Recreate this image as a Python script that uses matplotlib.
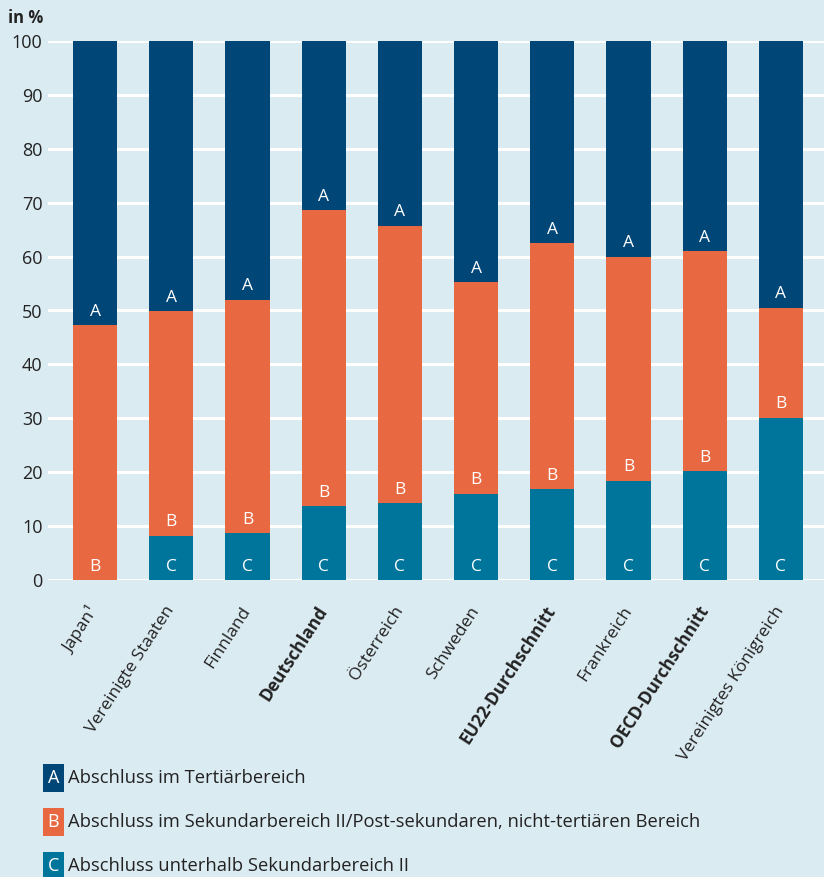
import numpy as np
import matplotlib.pyplot as plt
from matplotlib.patches import Rectangle

plt.rcParams['font.family'] = ['Open Sans', 'DejaVu Sans']

# data (in %)
countries = ["Japan¹", "Vereinigte Staaten", "Finnland", "Deutschland", "Österreich",
             "Schweden", "EU22-Durchschnitt", "Frankreich", "OECD-Durchschnitt",
             "Vereinigtes Königreich"]
bold_labels = ["Deutschland", "EU22-Durchschnitt", "OECD-Durchschnitt"]
below_sec2 = [0.0, 8.2, 8.7, 13.7, 14.3, 16.0, 16.9, 18.4, 20.2, 30.1]      # C
sec2_post = [47.3, 41.7, 43.3, 54.9, 51.4, 39.3, 45.6, 41.6, 40.8, 20.4]    # B
tertiary = [52.7, 50.1, 48.0, 31.4, 34.3, 44.7, 37.5, 40.0, 39.0, 49.5]     # A

legend_labels = ["Abschluss im Tertiärbereich",
                 "Abschluss im Sekundarbereich II/Post-sekundaren, nicht-tertiären Bereich",
                 "Abschluss unterhalb Sekundarbereich II"]

bg = "#dbebf2"
col_a = "#004677"
col_b = "#e86841"
col_c = "#00759c"
txt = "#222222"

fig = plt.figure(figsize=(8.24, 8.77), dpi=100, facecolor=bg)
ax = fig.add_axes([48 / 824, (877 - 580) / 877, 1 - 48 / 824, (580 - 41) / 877])
ax.set_facecolor(bg)

x = np.arange(len(countries))
c = np.array(below_sec2)
b = np.array(sec2_post)
a = np.array(tertiary)
w = 0.58
ax.bar(x, c, w, color=col_c, zorder=3)
ax.bar(x, b, w, bottom=c, color=col_b, zorder=3)
ax.bar(x, a, w, bottom=c + b, color=col_a, zorder=3)

# letter labels inside bars
for i in x:
    ax.text(i, c[i] + b[i] + 1.0, "A", color="white", ha="center", va="bottom", fontsize=12.5, zorder=4)
    ax.text(i, c[i] + 1.0, "B", color="white", ha="center", va="bottom", fontsize=12.5, zorder=4)
    if c[i] > 0:
        ax.text(i, 1.0, "C", color="white", ha="center", va="bottom", fontsize=12.5, zorder=4)

ax.set_ylim(0, 100)
ax.set_xlim(-0.618, 9.566)
ax.set_yticks(np.arange(0, 101, 10))
ax.yaxis.grid(True, color="white", linewidth=2.2, zorder=1)
ax.set_axisbelow(True)
for s in ax.spines.values():
    s.set_visible(False)
ax.tick_params(axis="y", length=0, labelsize=13, colors=txt, pad=4)
ax.tick_params(axis="x", length=0, pad=20)
ax.set_xticks(x)
ax.set_xticklabels(countries, rotation=57, ha="right", va="center",
                   rotation_mode="anchor", fontsize=12.5, color=txt)
for lbl in ax.get_xticklabels():
    if lbl.get_text() in bold_labels:
        lbl.set_fontweight("bold")

fig.text(8 / 824, 1 - 18 / 877, "in %", fontsize=12, fontweight="bold", color=txt,
         ha="left", va="center")

# legend
for k, (letter, col, lab) in enumerate(zip("ABC", [col_a, col_b, col_c], legend_labels)):
    yc = 1 - (778 + k * 44) / 877
    fig.patches.append(Rectangle((43 / 824, yc - 14 / 877), 21 / 824, 28 / 877,
                                 transform=fig.transFigure, facecolor=col, edgecolor="none"))
    fig.text(53.5 / 824, yc, letter, color="white", fontsize=13, ha="center", va="center")
    fig.text(68 / 824, yc, lab, color=txt, fontsize=13.2, ha="left", va="center")

fig.savefig("out.png", dpi=100, facecolor=bg)
